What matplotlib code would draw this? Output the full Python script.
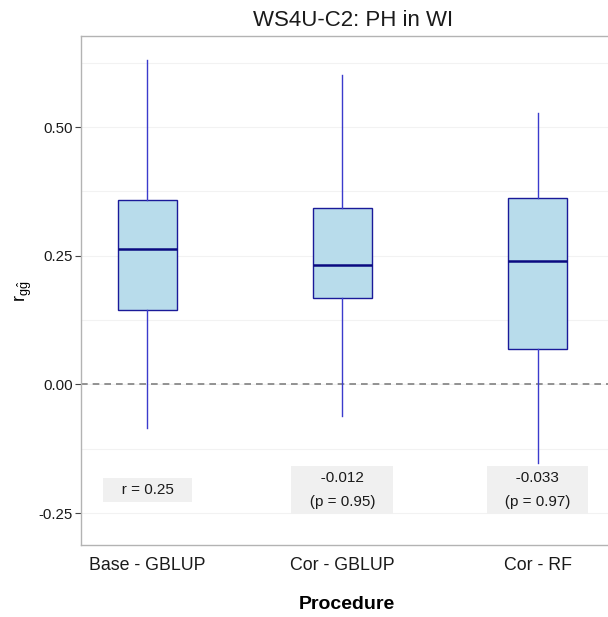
import numpy as np
import matplotlib
matplotlib.use('Agg')
import matplotlib.pyplot as plt

procedures = ['Base - GBLUP', 'Cor - GBLUP', 'Cor - RF']
# box stats
whisker_low = [-0.085, -0.062, -0.153]
q1 = [0.144, 0.167, 0.068]
medians = [0.264, 0.233, 0.239]
q3 = [0.358, 0.342, 0.363]
whisker_high = [0.630, 0.602, 0.528]
labels = ['r = 0.25', '-0.012\n(p = 0.95)', '-0.033\n(p = 0.97)']
label_y = -0.205

plt.rcParams['font.family'] = ['Liberation Sans', 'DejaVu Sans']


def main():
    fig = plt.figure(figsize=(6.08, 6.17), dpi=100)
    ax = fig.add_axes([81 / 608, 72 / 617, 560 / 608, 509 / 617])

    stats = []
    for i, name in enumerate(procedures):
        stats.append({'label': name, 'whislo': whisker_low[i], 'q1': q1[i],
                      'med': medians[i], 'q3': q3[i], 'whishi': whisker_high[i],
                      'fliers': []})

    ax.bxp(stats, positions=[1, 2, 3], widths=0.3, patch_artist=True,
           showcaps=False,
           boxprops=dict(facecolor='#b8dceb', edgecolor='#1a1a99', linewidth=1.0),
           medianprops=dict(color='#0a0a80', linewidth=1.8),
           whiskerprops=dict(color='#3b3bcc', linewidth=1.0),
           zorder=3)

    ax.axhline(0, color='#808080', linestyle=(0, (4, 3)), linewidth=1.2, zorder=2)

    for i, txt in enumerate(labels):
        # pad each line with spaces so the grey label box is wide like ggplot's
        padded = '\n'.join('   ' + line + '   ' for line in txt.split('\n'))
        ax.text(i + 1, label_y, padded, ha='center', va='center', fontsize=11,
                multialignment='center', color='#1a1a1a', linespacing=1.9, zorder=4,
                bbox=dict(boxstyle='square,pad=0.35', facecolor='#f0f0f0', edgecolor='none'))

    ax.set_xlim(0.66, 3.53)
    ax.set_ylim(-0.312, 0.677)
    ax.set_yticks([-0.25, 0.0, 0.25, 0.50])
    ax.set_yticklabels(['-0.25', '0.00', '0.25', '0.50'])
    ax.set_yticks([-0.125, 0.125, 0.375, 0.625], minor=True)
    ax.set_xticks([1, 2, 3])
    ax.set_xticklabels(procedures)

    ax.grid(True, which='both', axis='y', color='#f2f2f2', linewidth=0.8, zorder=0)
    ax.set_axisbelow(True)
    ax.tick_params(axis='y', which='major', length=4, color='#444444', labelsize=10.8,
                   labelcolor='#1a1a1a', pad=2)
    ax.tick_params(axis='y', which='minor', length=0)
    ax.tick_params(axis='x', length=0, labelsize=12.8, labelcolor='#1a1a1a', pad=9)

    for side in ['left', 'bottom', 'top', 'right']:
        ax.spines[side].set_color('#b3b3b3')
        ax.spines[side].set_linewidth(1.0)

    ax.set_title('WS4U-C2: PH in WI', fontsize=16, color='#1a1a1a', pad=7, x=(353 - 81) / 560)
    ax.set_xlabel('Procedure', fontsize=14, fontweight='bold')
    ax.xaxis.set_label_coords((347 - 81) / 560, -0.1)
    ax.set_ylabel(r'$\mathregular{r_{g\hat{g}}}$', fontsize=13, labelpad=3)

    fig.savefig('out.png', dpi=100)


if __name__ == '__main__':
    main()
